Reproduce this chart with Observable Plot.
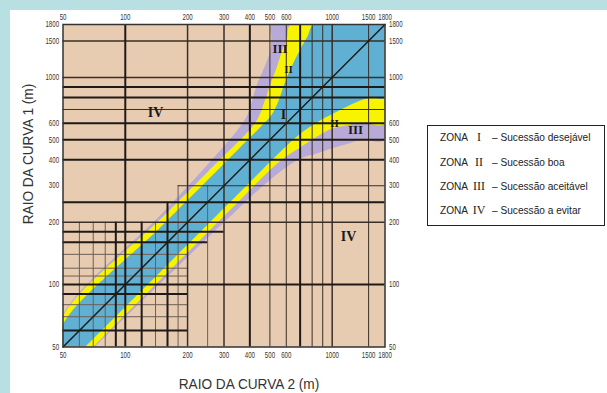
<!DOCTYPE html>
<html>
<head>
<meta charset="utf-8">
<script src="https://cdn.jsdelivr.net/npm/d3@7"></script>
<script src="https://cdn.jsdelivr.net/npm/@observablehq/plot@0.6"></script>
<style>
  html, body { margin: 0; padding: 0; }
  body { width: 607px; height: 393px; background: #b8dfe2; position: relative; overflow: hidden;
         font-family: "Liberation Sans", Arial, sans-serif; }
  #panel { position: absolute; left: 10px; top: 10px; right: 0; bottom: 0; background: #fff; }
  #chart { position: absolute; left: 0; top: 0; }
  .title { position: absolute; font-size: 15px; color: #333; white-space: nowrap; }
  #xtitle { left: 248.5px; top: 383px; transform: translate(-50%, -50%) scaleX(0.91); }
  #ytitle { left: 27px; top: 154px; transform: translate(-50%, -50%) rotate(-90deg) scaleX(0.91); }
  #legend { position: absolute; left: 427px; top: 125px; width: 176px; height: 99px;
            border: 1.5px solid #222; background: #fff; }
  .row { position: absolute; left: 0; height: 14px; white-space: nowrap; color: #222; }
  .row span { position: absolute; top: 0; line-height: 14px; }
  .zona { left: 12px; font-size: 11px; transform: scaleX(0.92); transform-origin: left center; }
  .num { font-family: "Liberation Serif", "Times New Roman", serif; font-size: 12px; transform: translateX(-50%); }
  .desc { left: 64px; font-size: 11px; transform: scaleX(0.92); transform-origin: left center; }
</style>
</head>
<body>
<div id="panel"></div>
<div id="chart"></div>
<div id="xtitle" class="title">RAIO DA CURVA 2 (m)</div>
<div id="ytitle" class="title">RAIO DA CURVA 1 (m)</div>
<div id="legend"></div>
<script>
// ---- tick values (both axes, radii in metres) ----
const xTicks = [50, 100, 200, 300, 400, 500, 600, 800, 1000, 1500, 1800];
const yTicks = [50, 100, 200, 300, 400, 500, 600, 800, 1000, 1500, 1800];

// ---- zone boundaries, [R2, R1] pairs ----
// upper-left branch (R1 > R2), from the left edge to the top edge
const zoneIUpper   = [[50, 64], [150, 192], [250, 320], [350, 448], [450, 576], [510, 660], [550, 770], [580, 900], [630, 1100], [690, 1325], [760, 1580], [816, 1800]];
const zoneIIUpper  = [[50, 70], [150, 210], [250, 350], [400, 560], [440, 640], [470, 760], [500, 914], [540, 1120], [570, 1325], [605, 1550], [630, 1800]];
const zoneIIIUpper = [[50, 71], [150, 220], [250, 380], [350, 560], [390, 660], [410, 771], [431, 914], [470, 1120], [500, 1325], [508, 1550], [510, 1800]];
// lower-right branch (R2 > R1), from the bottom edge to the right edge
const zoneILower   = [[64, 50], [200, 156], [350, 273], [560, 437], [700, 535], [850, 610], [1000, 666], [1200, 730], [1400, 780], [1550, 800], [1800, 800]];
const zoneIILower  = [[70, 50], [200, 143], [350, 250], [560, 395], [700, 459], [850, 520], [1000, 566], [1200, 590], [1400, 600], [1800, 600]];
const zoneIIILower = [[71, 50], [150, 103], [300, 200], [500, 320], [700, 405], [850, 430], [1000, 455], [1200, 480], [1400, 500], [1800, 500]];

// ---- grid lines (radius values) ----
const vThick  = [100, 400, 700];
const vMedium = [200, 300, 1000];
const vThin   = [500, 600, 800, 900, 1500];
const vShortThick = [[90, 200], [120, 200], [160, 250]];            // [R2, top R1]
const vShortThin  = [[60, 200], [70, 200], [80, 200], [140, 200], [180, 300], [250, 300]];
const hThick  = [100, 250, 400, 500, 600, 800, 900];
const hMedium = [200, 1000, 1500];
const hThin   = [700];
const hShortThick = [[60, 200], [90, 200], [160, 250], [180, 300]];  // [R1, right R2]
const hShortThin  = [[70, 200], [80, 200], [110, 200], [120, 200], [140, 200]];
const hFromRight  = [[300, 180]];                                    // [R1, left R2]
const diagonal = [50, 1800];

// ---- labels ----
const bigLabels   = [{t: "IV", r2: 140, r1: 676}, {t: "IV", r2: 1199, r1: 170}, {t: "I", r2: 581, r1: 661}];
const midLabels   = [{t: "III", r2: 560, r1: 1374}, {t: "III", r2: 1296, r1: 559}];
const smallLabels = [{t: "II", r2: 615, r1: 1089}, {t: "II", r2: 1026, r1: 597}];
const zoneNames = ["I", "II", "III", "IV"];
const zoneDescriptions = ["Sucessão desejável", "Sucessão boa", "Sucessão aceitável", "Sucessão a evitar"];

const TAN = "#e8ccb2", PURPLE = "#b8aad6", YELLOW = "#f8f400", BLUE = "#60b0d4";
const DARK = "#1e1a17", MID = "#3a2e27", FINE = "#6e5e53";

function polygon(upper, lower) {
  const pts = [[50, 50], ...upper, [1800, 1800], ...lower.slice().reverse()];
  return pts.map(([r2, r1]) => ({r2, r1}));
}

const tickStyle = {tickSize: 0, tickFormat: d => String(d), fontSize: 8.5, label: null, fill: "#333"};
const zoneStyle = {x: "r2", y: "r1", stroke: "none", curve: "catmull-rom", clip: true};

const chart = Plot.plot({
  width: 607, height: 393,
  marginLeft: 62.5, marginRight: 222.5, marginTop: 24, marginBottom: 46.5,
  style: {background: "transparent", overflow: "visible", fontFamily: "Liberation Sans, Arial, sans-serif"},
  x: {type: "log", domain: [50, 1800], label: null},
  y: {type: "log", domain: [50, 1800], label: null},
  marks: [
    Plot.frame({fill: TAN, stroke: "none"}),
    Plot.line(polygon(zoneIIIUpper, zoneIIILower), {...zoneStyle, fill: PURPLE}),
    Plot.line(polygon(zoneIIUpper, zoneIILower), {...zoneStyle, fill: YELLOW}),
    Plot.line(polygon(zoneIUpper, zoneILower), {...zoneStyle, fill: BLUE}),

    Plot.ruleX(vShortThin, {x: d => d[0], y1: d => 50, y2: d => d[1], stroke: FINE, strokeWidth: 1}),
    Plot.ruleY(hShortThin, {y: d => d[0], x1: d => 50, x2: d => d[1], stroke: FINE, strokeWidth: 1}),
    Plot.ruleX(vThin, {x: d => d, stroke: MID, strokeWidth: 1}),
    Plot.ruleY(hThin, {y: d => d, stroke: MID, strokeWidth: 1}),
    Plot.ruleY(hFromRight, {y: d => d[0], x1: d => d[1], x2: d => 1800, stroke: MID, strokeWidth: 1}),
    Plot.ruleX(vMedium, {x: d => d, stroke: MID, strokeWidth: 1.5}),
    Plot.ruleY(hMedium, {y: d => d, stroke: MID, strokeWidth: 1.5}),
    Plot.ruleX(vShortThick, {x: d => d[0], y1: d => 50, y2: d => d[1], stroke: DARK, strokeWidth: 2}),
    Plot.ruleY(hShortThick, {y: d => d[0], x1: d => 50, x2: d => d[1], stroke: DARK, strokeWidth: 2}),
    Plot.ruleX(vThick, {x: d => d, stroke: DARK, strokeWidth: 2}),
    Plot.ruleY(hThick, {y: d => d, stroke: DARK, strokeWidth: 2}),
    Plot.line(diagonal, {x: d => d, y: d => d, stroke: DARK, strokeWidth: 1.5}),

    Plot.text(bigLabels, {x: "r2", y: "r1", text: "t", fontFamily: "Liberation Serif, Times New Roman, serif", fontWeight: "bold", fontSize: 14, fill: "#1a1a1a"}),
    Plot.text(midLabels, {x: "r2", y: "r1", text: "t", fontFamily: "Liberation Serif, Times New Roman, serif", fontWeight: "bold", fontSize: 13, fill: "#1a1a1a"}),
    Plot.text(smallLabels, {x: "r2", y: "r1", text: "t", fontFamily: "Liberation Serif, Times New Roman, serif", fontWeight: "bold", fontSize: 11, fill: "#1a1a1a"}),

    Plot.frame({stroke: "#333", strokeWidth: 1.5}),

    Plot.axisX({ticks: xTicks, anchor: "bottom", tickPadding: 5, ...tickStyle}),
    Plot.axisX({ticks: xTicks, anchor: "top", tickPadding: 5, ...tickStyle}),
    Plot.axisY({ticks: yTicks, anchor: "left", tickPadding: 4, ...tickStyle}),
    Plot.axisY({ticks: yTicks, anchor: "right", tickPadding: 4, ...tickStyle})
  ]
});
document.getElementById("chart").appendChild(chart);

// narrow the tick labels (condensed face of the original) with a local horizontal scale about their anchor
const S = 0.72;
chart.querySelectorAll("text").forEach(t => {
  if (!/^\d+$/.test(t.textContent.trim())) return;
  const b = t.getBBox();
  const anchor = getComputedStyle(t).textAnchor;
  const ax = anchor === "middle" ? b.x + b.width / 2 : anchor === "end" ? b.x + b.width : b.x;
  const prev = t.getAttribute("transform") || "";
  t.setAttribute("transform", `${prev} translate(${ax},0) scale(${S},1) translate(${-ax},0)`.trim());
});

// legend
const legend = document.getElementById("legend");
const rowTops = [4, 28.5, 53, 77];
zoneNames.forEach((z, i) => {
  const row = document.createElement("div");
  row.className = "row";
  row.style.top = rowTops[i] + "px";
  row.innerHTML = `<span class="zona">ZONA</span><span class="num" style="left:51px">${z}</span><span class="desc">– ${zoneDescriptions[i]}</span>`;
  legend.appendChild(row);
});
</script>
</body>
</html>
